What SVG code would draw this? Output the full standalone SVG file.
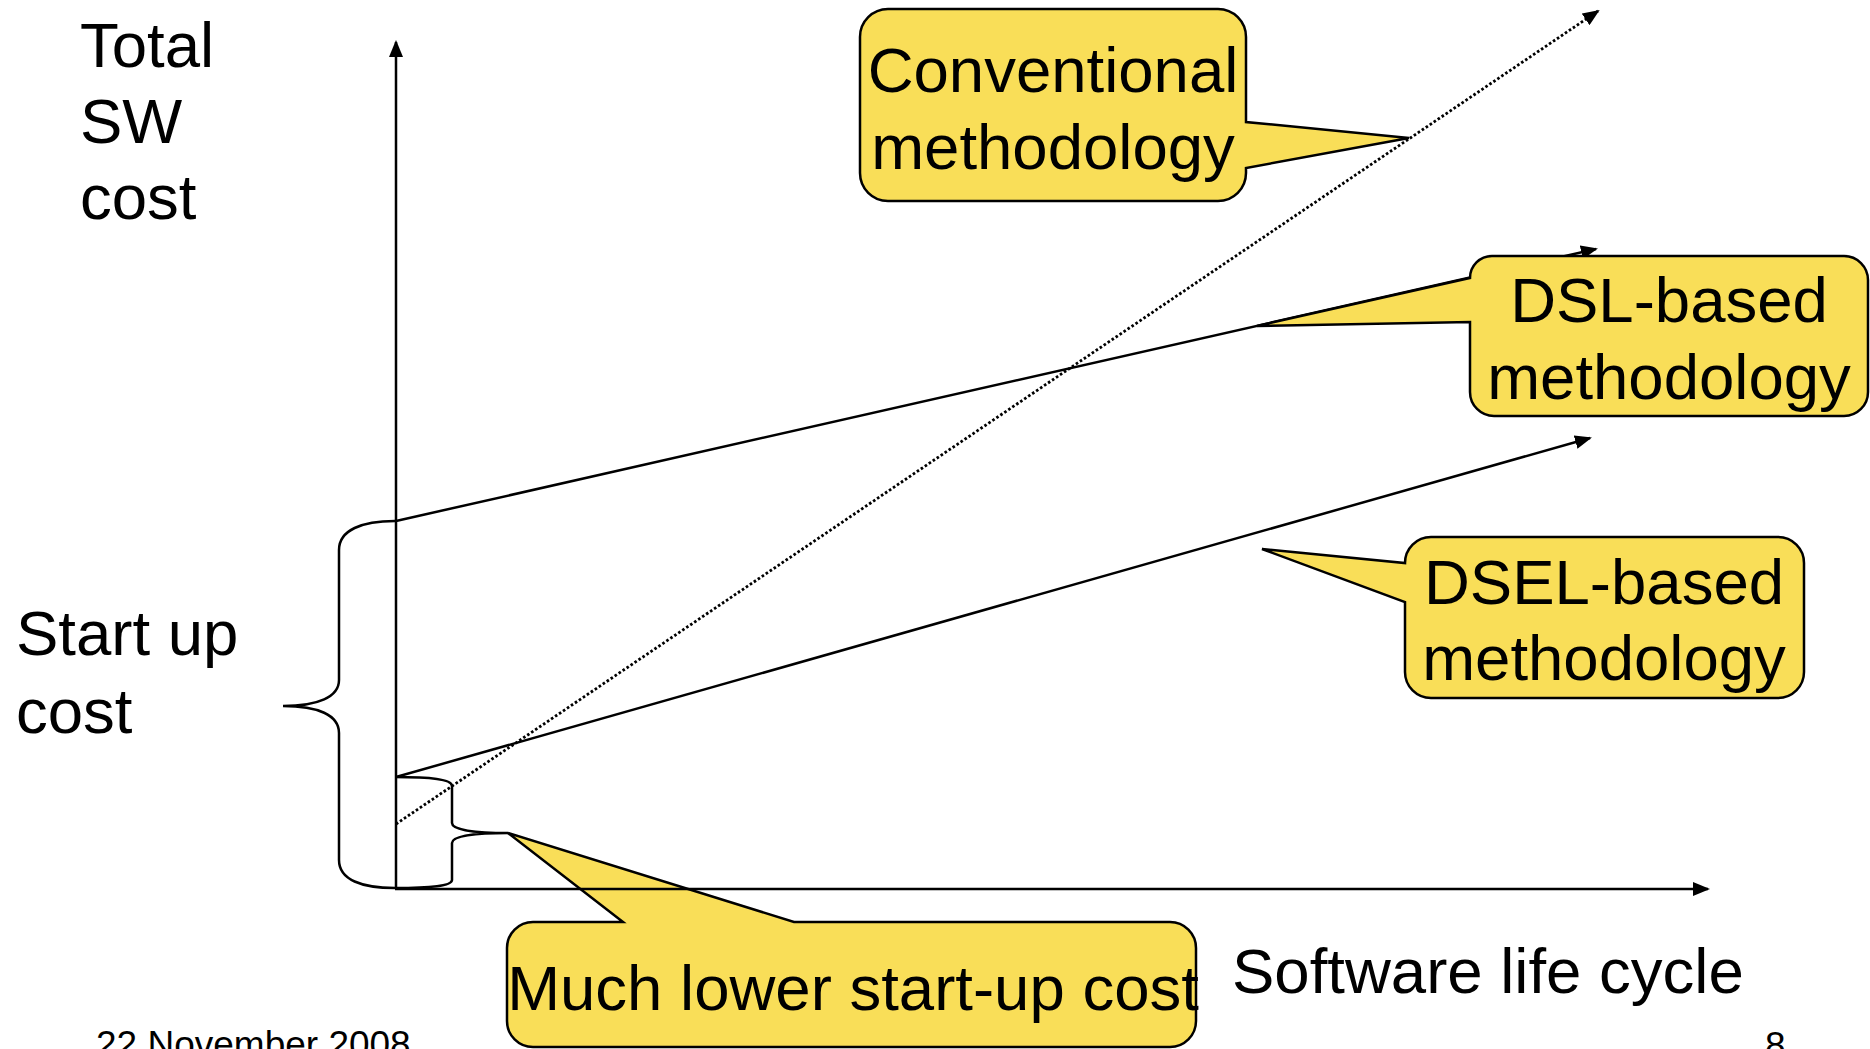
<svg xmlns="http://www.w3.org/2000/svg" width="1870" height="1049" viewBox="0 0 1870 1049">
  <style>
    .lbl { font-family: "Liberation Sans", Arial, sans-serif; font-size: 63.5px; fill: #000; }
    .foot { font-family: "Liberation Sans", Arial, sans-serif; font-size: 37px; fill: #000; }
    .mid { text-anchor: middle; }
    .callout { fill: #F9DE58; stroke: #000; stroke-width: 2.5; stroke-linejoin: miter; }
    .axis { fill: none; stroke: #000; stroke-width: 2.5; }
    .curve { fill: none; stroke: #000; stroke-width: 2.5; }
    .dotted { fill: none; stroke: #000; stroke-width: 2.8; stroke-dasharray: 2.6 2.2; }
    .brace { fill: none; stroke: #000; stroke-width: 2.5; }
  </style>
  <defs>
    <marker id="arrow" markerUnits="userSpaceOnUse" markerWidth="17" markerHeight="14" refX="15" refY="7" orient="auto">
      <path d="M0,0 L17,7 L0,14 Z" fill="#000"/>
    </marker>
  </defs>

  <rect width="1870" height="1049" fill="#fff"/>

  <!-- callout under the x axis -->
  <g id="node-startup-callout">
    <path class="callout" d="M533,922 H623 L508,833 L794,922 H1170 A26,26 0 0 1 1196,948 V1021 A26,26 0 0 1 1170,1047 H533 A26,26 0 0 1 507,1021 V948 A26,26 0 0 1 533,922 Z"/>
    <text class="lbl mid" x="853" y="1010">Much lower start-up cost</text>
  </g>

  <!-- axes and cost lines -->
  <g id="connectors">
    <line class="axis" x1="396" y1="889" x2="396" y2="42" marker-end="url(#arrow)"/>
    <line class="axis" x1="395" y1="889" x2="1708" y2="889" marker-end="url(#arrow)"/>
    <line class="curve" x1="396" y1="521" x2="1596" y2="249" marker-end="url(#arrow)"/>
    <line class="curve" x1="396" y1="777" x2="1590" y2="438" marker-end="url(#arrow)"/>
    <line class="dotted" x1="396" y1="824" x2="1598" y2="11" marker-end="url(#arrow)"/>
  </g>

  <!-- braces marking start-up cost -->
  <g id="node-big-brace">
    <path class="brace" d="M395,521 C362,521 339,530 339,550 V680 C339,697 318,706 283,706 C318,706 339,715 339,733 V860 C339,880 362,888 395,888"/>
  </g>
  <g id="node-small-brace">
    <path class="brace" d="M395,777 C430,777 452,779 452,786 V823 C452,830 475,833 508,833 C475,833 452,836 452,843 V880 C452,886 430,888 395,888"/>
  </g>

  <!-- axis labels -->
  <g id="node-y-label">
    <text class="lbl" x="80" y="67">Total</text>
    <text class="lbl" x="80" y="143">SW</text>
    <text class="lbl" x="80" y="219">cost</text>
  </g>
  <g id="node-startup-label">
    <text class="lbl" x="16" y="655">Start up</text>
    <text class="lbl" x="16" y="733">cost</text>
  </g>
  <g id="node-x-label">
    <text class="lbl" x="1232" y="993">Software life cycle</text>
  </g>

  <!-- methodology callouts -->
  <g id="node-conventional">
    <path class="callout" d="M888,9 H1218 A28,28 0 0 1 1246,37 V122 L1409,138 L1246,168 V173 A28,28 0 0 1 1218,201 H888 A28,28 0 0 1 860,173 V37 A28,28 0 0 1 888,9 Z"/>
    <text class="lbl mid" x="1053" y="92">Conventional</text>
    <text class="lbl mid" x="1053" y="169">methodology</text>
  </g>
  <g id="node-dsl">
    <path class="callout" d="M1492,256 H1844 A24,24 0 0 1 1868,280 V392 A24,24 0 0 1 1844,416 H1494 A24,24 0 0 1 1470,392 V322 L1257,326 L1470,278 A22,22 0 0 1 1492,256 Z"/>
    <text class="lbl mid" x="1669" y="322">DSL-based</text>
    <text class="lbl mid" x="1669" y="399">methodology</text>
  </g>
  <g id="node-dsel">
    <path class="callout" d="M1431,537 H1778 A26,26 0 0 1 1804,563 V672 A26,26 0 0 1 1778,698 H1431 A26,26 0 0 1 1405,672 V602 L1262,549 L1405,563 A26,26 0 0 1 1431,537 Z"/>
    <text class="lbl mid" x="1604" y="604">DSEL-based</text>
    <text class="lbl mid" x="1604" y="680">methodology</text>
  </g>

  <!-- footer, partly below the bottom edge -->
  <g id="node-footer">
    <text class="foot" x="96" y="1057">22 November 2008</text>
    <text class="foot" x="1765" y="1058">8</text>
  </g>
</svg>
